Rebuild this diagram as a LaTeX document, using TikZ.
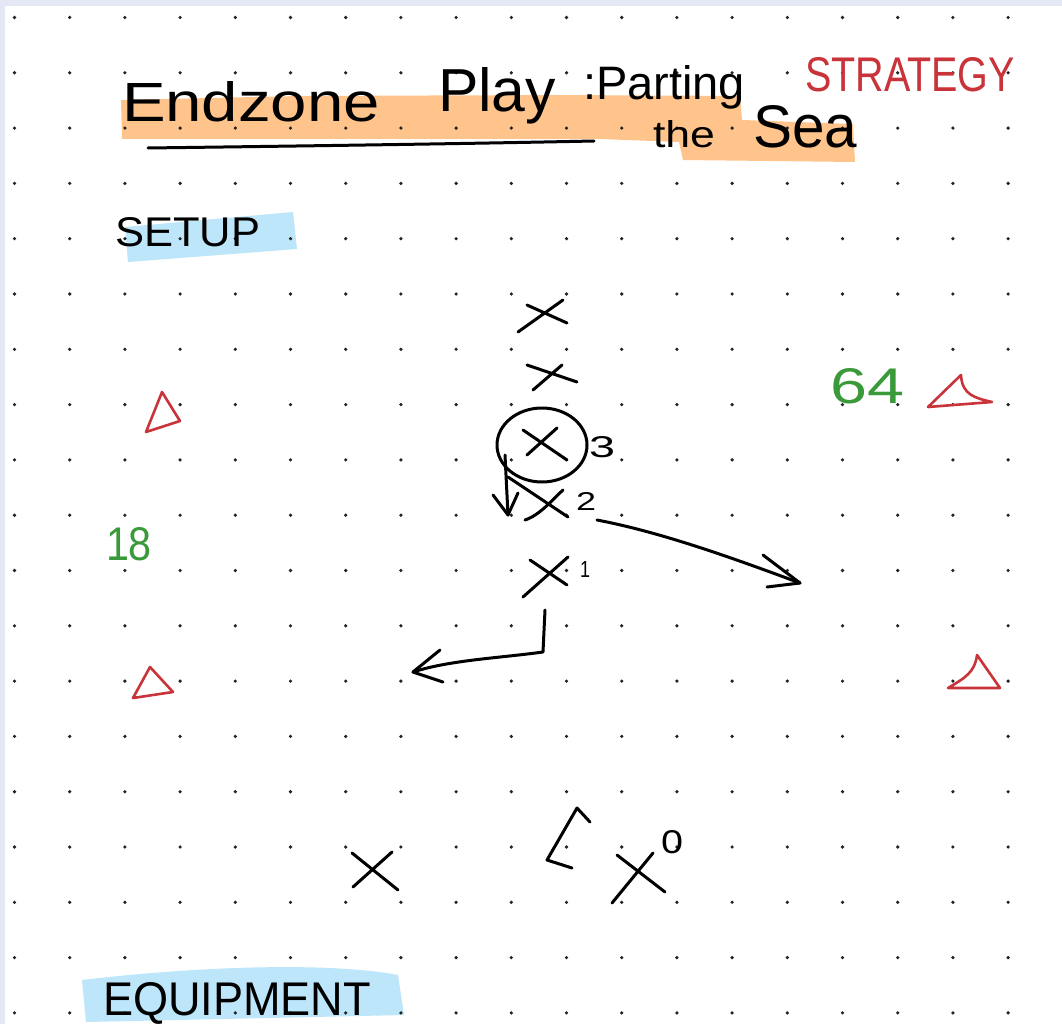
\documentclass[tikz,border=0pt]{standalone}
\usepackage{fontspec}
\setmainfont{Liberation Sans}
\usepackage{graphicx}
\definecolor{borderc}{HTML}{E4E8F4}
\definecolor{orangec}{HTML}{FFC48C}
\definecolor{bluec}{HTML}{BDE6FA}
\definecolor{redc}{HTML}{C9343A}
\definecolor{greenc}{HTML}{3A9A3A}
\definecolor{dotc}{HTML}{222222}
\newcommand{\hw}[3]{\resizebox{#1pt}{#2pt}{#3}}
\begin{document}
\begin{tikzpicture}[x=1pt,y=-1pt,
  ink/.style={line width=3pt, line cap=round, line join=round, draw=black},
  redink/.style={line width=2.6pt, line cap=round, line join=round, draw=redc},
  lbl/.style={inner sep=0pt, outer sep=0pt, anchor=base west},
]
\useasboundingbox (0,0) rectangle (1062,1024);
\fill[borderc] (0,0) rectangle (1062,1024);
\fill[white] (5,6) rectangle (1062,1024);
% highlights
\fill[orangec] (121,100) -- (300,96) -- (560,95) -- (740,96) -- (742,120) -- (853,124) -- (855,162) -- (683,160) -- (679,142) -- (600,139) -- (122,139) -- cycle;
\fill[bluec] (125,227) -- (293,212) -- (297,249) -- (128,262) -- cycle;
\fill[bluec] (82,980) .. controls (200,966) and (330,962) .. (398,975) -- (404,1015) -- (86,1022) -- cycle;
% dot grid
\foreach \i in {0,...,18} {\foreach \j in {0,...,18} {\fill[dotc] ({14.5+55.2*\i},{17.5+55.3*\j}) circle (1.8pt);}}
% title
\node[lbl] (endzone) at (122,122) {\hw{258}{40}{Endzone}};
\node[lbl] (play) at (438,112) {\hw{118}{44}{Play}};
\node[lbl] (parting) at (583,100) {\hw{162}{34}{:Parting}};
\node[lbl] (the) at (653,148) {\hw{62}{27}{the}};
\node[lbl] (sea) at (753,148) {\hw{104}{42}{Sea}};
\draw[ink] (148,148) .. controls (300,146) and (450,144) .. (594,141);
\node[lbl, text=redc] (strategy) at (805,92) {\hw{210}{34}{STRATEGY}};
% section labels
\node[lbl] (setup) at (115,247) {\hw{145}{29}{SETUP}};
\node[lbl] (equip) at (103,1015) {\hw{268}{33}{EQUIPMENT}};
% numbers
\node[lbl, text=greenc] (n18) at (106,560) {\hw{46}{33}{18}};
\node[lbl, text=greenc] (n64) at (830,403) {\hw{74}{35}{64}};
% red cones
\draw[redink] (162,392) -- (180,421) -- (146,432) -- cycle;
\draw[redink] (150,667) -- (173,692) -- (133,698) -- cycle;
\draw[redink] (928,407) -- (961,375) .. controls (962,395) and (975,398) .. (992,402) -- cycle;
\draw[redink] (977,655) -- (1000,688) -- (948,688) .. controls (965,678) and (975,672) .. cycle;
% players
\draw[ink] (518,332) -- (563,300) (527,305) -- (567,323);
\draw[ink] (533,390) -- (562,365) (527,365) -- (577,382);
\draw[ink] (527,455) -- (557,428) (523,430) -- (567,460);
\draw[ink] (542,445) ellipse [x radius=45pt, y radius=37pt];
\node[lbl] (l3) at (589,457) {\hw{26}{21}{3}};
% down arrow from circled player
\coordinate (da1) at (505,455);
\coordinate (da2) at (508,515);
\draw[ink] (da1) -- (da2);
\draw[ink] (493,495) -- (da2) -- (518,493);
% player 2
\draw[ink] (508,477) -- (568,517);
\draw[ink] (525,520) .. controls (540,515) and (552,500) .. (563,490);
\node[lbl] (l2) at (576,510) {\hw{20}{18}{2}};
% player 1
\draw[ink] (523,597) -- (568,557) (530,560) -- (567,585);
\node[lbl] (l1) at (580,577) {\hw{10}{16}{1}};
% route of player 2
\coordinate (r2s) at (597,520);
\coordinate (r2e) at (800,583);
\draw[ink] (r2s) .. controls (660,532) and (730,557) .. (r2e);
\draw[ink] (763,555) -- (r2e) -- (767,587);
% route of player 1
\coordinate (r1s) at (545,610);
\coordinate (r1c) at (543,652);
\coordinate (r1e) at (413,672);
\draw[ink] (r1s) -- (r1c) .. controls (500,658) and (450,660) .. (r1e);
\draw[ink] (440,650) -- (r1e) -- (443,682);
% bottom players
\draw[ink] (352,853) -- (398,890) (353,887) -- (392,852);
\draw[ink] (590,822) -- (577,808) -- (547,860) -- (572,868);
\draw[ink] (612,903) -- (653,853) (617,855) -- (665,892);
\node[lbl] (l0) at (661,853) {\hw{22}{23}{0}};
\end{tikzpicture}
\end{document}
